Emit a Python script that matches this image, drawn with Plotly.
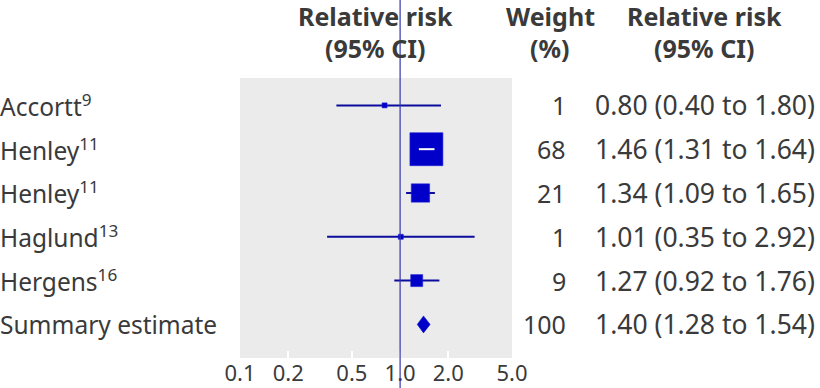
import math
import plotly.graph_objects as go

# ---- data ----
studies = ["Accortt", "Henley", "Henley", "Haglund", "Hergens", "Summary estimate"]
refs = ["9", "11", "11", "13", "16", ""]
weights = [1, 68, 21, 1, 9, 100]
rr = [0.80, 1.46, 1.34, 1.01, 1.27, 1.40]
lo = [0.40, 1.31, 1.09, 0.35, 0.92, 1.28]
hi = [1.80, 1.64, 1.65, 2.92, 1.76, 1.54]
tick_vals = [0.1, 0.2, 0.5, 1.0, 2.0, 5.0]
tick_text = ["0.1", "0.2", "0.5", "1.0", "2.0", "5.0"]

# ---- style / layout constants ----
W, H = 820, 388
PL, PR, PT, PB = 240, 512, 78, 358  # plot area in pixels
FONT = "Noto Sans"
TXT = "#3a3a3a"
BLUE = "#0000c8"
LINE = "#0c0c9c"
FS_NAME = 24.5
FS_W = 25
FS_NUM = 26.5
FS_HEAD = 25

n = len(studies)
ys = [n - i for i in range(n)]
x_range = [-1, math.log10(5.0)]
y_range = [0.233, 6.625]
px_per_dec = (PR - PL) / (x_range[1] - x_range[0])

fig = go.Figure()

study_idx = [i for i in range(n) if weights[i] < 100]
sum_idx = [i for i in range(n) if weights[i] >= 100]

# CI lines (under markers)
cx, cy = [], []
for i in study_idx:
    cx += [lo[i], hi[i], None]
    cy += [ys[i], ys[i], None]
fig.add_trace(go.Scatter(x=cx, y=cy, mode="lines", line=dict(color=LINE, width=2),
                         hoverinfo="skip", showlegend=False))

# weight squares
sizes = [max(4 * math.sqrt(weights[i]), 5) for i in study_idx]
fig.add_trace(go.Scatter(x=[rr[i] for i in study_idx], y=[ys[i] for i in study_idx],
                         mode="markers",
                         marker=dict(symbol="square", size=sizes, color=BLUE, opacity=1,
                                     line=dict(color="#2222d6", width=0.6)),
                         showlegend=False))

# white CI inside boxes that fully contain it
wx, wy = [], []
for k, i in enumerate(study_idx):
    half = sizes[k] / 2 / px_per_dec
    c = math.log10(rr[i])
    if math.log10(lo[i]) > c - half and math.log10(hi[i]) < c + half:
        wx += [lo[i], hi[i], None]
        wy += [ys[i], ys[i], None]
if wx:
    fig.add_trace(go.Scatter(x=wx, y=wy, mode="lines", line=dict(color="white", width=2),
                             hoverinfo="skip", showlegend=False))

# summary diamond
y_per_px = (y_range[1] - y_range[0]) / (PB - PT)
dh = 8.5 * y_per_px
for i in sum_idx:
    fig.add_trace(go.Scatter(x=[lo[i], rr[i], hi[i], rr[i], lo[i]],
                             y=[ys[i], ys[i] + dh, ys[i], ys[i] - dh, ys[i]],
                             mode="lines", fill="toself", fillcolor=BLUE,
                             line=dict(color=BLUE, width=0.5), showlegend=False))

# null line
fig.add_shape(type="line", x0=1, x1=1, y0=0, y1=1, xref="x", yref="paper",
              line=dict(color="#3434ae", width=1.2))

# text columns
for i in range(n):
    name = studies[i] + (f"<sup>{refs[i]}</sup>" if refs[i] else "")
    fig.add_annotation(x=0, y=ys[i], xref="paper", yref="y", text=name, showarrow=False,
                       xanchor="left", yanchor="middle", xshift=-2,
                       font=dict(family=FONT, size=FS_NAME, color=TXT))
    fig.add_annotation(x=568 / W, y=ys[i], xref="paper", yref="y", text=str(weights[i]),
                       showarrow=False, xanchor="right", yanchor="middle",
                       font=dict(family=FONT, size=FS_W, color=TXT))
    fig.add_annotation(x=593 / W, y=ys[i], xref="paper", yref="y",
                       text=f"{rr[i]:.2f} ({lo[i]:.2f} to {hi[i]:.2f})",
                       showarrow=False, xanchor="left", yanchor="middle",
                       font=dict(family=FONT, size=FS_NUM, color=TXT))

headers = [("Relative risk", "(95% CI)", 375), ("Weight", "(%)", 550), ("Relative risk", "(95% CI)", 704)]
for l1, l2, xc in headers:
    for txt, yc in ((l1, 16), (l2, 48)):
        fig.add_annotation(x=xc / W, y=1 - yc / H, xref="paper", yref="paper", text=f"<b>{txt}</b>",
                           showarrow=False, xanchor="center", yanchor="middle",
                           font=dict(family=FONT, size=FS_HEAD, color=TXT))

fig.update_layout(
    template="none",
    width=W, height=H, margin=dict(l=0, r=0, t=0, b=0, pad=0),
    paper_bgcolor="white", plot_bgcolor="#ebebeb",
    xaxis=dict(type="log", range=x_range, domain=[PL / W, PR / W], automargin=False,
               tickvals=tick_vals, ticktext=tick_text, ticks="inside", ticklen=7,
               tickwidth=2, tickcolor="white", showgrid=False, zeroline=False,
               showline=False, tickfont=dict(family=FONT, size=22, color=TXT)),
    yaxis=dict(range=y_range, domain=[1 - PB / H, 1 - PT / H], showticklabels=False,
               automargin=False, showgrid=False, zeroline=False, ticks=""),
    showlegend=False,
)

fig.write_html(
    "out.html",
    config={"displayModeBar": False},
    post_script="document.body.style.margin='0';document.body.style.overflow='hidden';",
)
